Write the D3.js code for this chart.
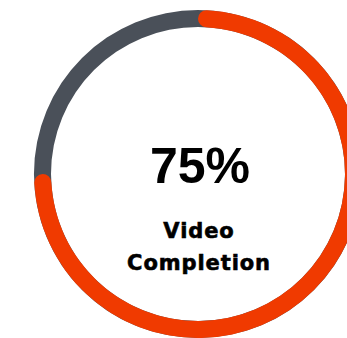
<!DOCTYPE html>
<html>
<head>
<meta charset="utf-8">
<script src="https://cdn.jsdelivr.net/npm/d3@7/dist/d3.min.js"></script>
<style>
  html, body { margin: 0; padding: 0; background: #fff; overflow: hidden; }
  svg { display: block; }
</style>
</head>
<body>
<svg id="chart" width="347" height="338"></svg>
<script>
// Progress gauge data
const metricLabel = ["Video", "Completion"];
const completed = [75];
const total = [100];

const width = 347, height = 338;
const cx = 198, cy = 174;
const outerR = 164, innerR = 147;

const svg = d3.select("#chart");
const g = svg.append("g").attr("transform", `translate(${cx},${cy})`);

// Angle scale: share of total -> radians, starting at 12 o'clock
const angle = d3.scaleLinear().domain([0, total[0]]).range([0, 2 * Math.PI]);

const arc = d3.arc().innerRadius(innerR).outerRadius(outerR);

// Background track
g.append("path")
  .attr("d", arc({ startAngle: 0, endAngle: angle(total[0]) }))
  .attr("fill", "#4a5059");

// Completed portion with rounded ends
g.append("path")
  .attr("d", d3.arc().innerRadius(innerR).outerRadius(outerR)
    .cornerRadius((outerR - innerR) / 2)({ startAngle: angle(0), endAngle: angle(completed[0]) }))
  .attr("fill", "#f03a00");

// Centre value
g.append("text")
  .attr("x", 2)
  .attr("y", 9)
  .attr("text-anchor", "middle")
  .attr("font-family", "'Liberation Sans', Arial, sans-serif")
  .attr("font-weight", "bold")
  .attr("font-size", 50)
  .attr("fill", "#000")
  .text(d3.format(".0%")(completed[0] / total[0]));

// Metric name, two lines
g.selectAll("text.label")
  .data(metricLabel)
  .join("text")
  .attr("class", "label")
  .attr("x", 1)
  .attr("y", (d, i) => 64 + i * 32)
  .attr("text-anchor", "middle")
  .attr("font-family", "'DejaVu Sans', sans-serif")
  .attr("font-weight", "bold")
  .attr("font-size", 21)
  .attr("letter-spacing", 0.9)
  .attr("fill", "#000")
  .attr("stroke", "#000")
  .attr("stroke-width", 0.6)
  .text(d => d);
</script>
</body>
</html>
